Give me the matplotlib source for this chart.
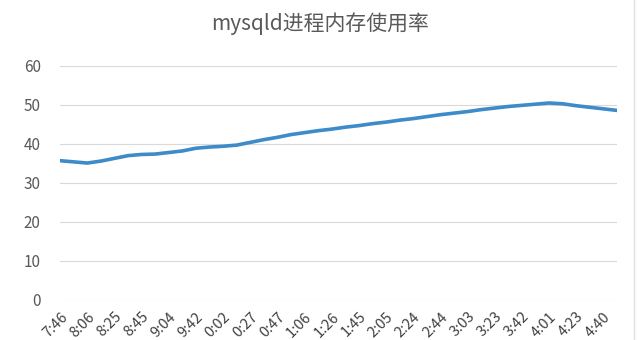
import matplotlib
matplotlib.use("Agg")
import matplotlib.pyplot as plt

plt.rcParams['font.family'] = ['Noto Sans CJK SC', 'DejaVu Sans']

# every other sample carries a visible label
tick_labels = ["7:46", "8:06", "8:25", "8:45", "9:04", "9:42", "0:02", "0:27",
               "0:47", "1:06", "1:26", "1:45", "2:05", "2:24", "2:44", "3:03",
               "3:23", "3:42", "4:01", "4:23", "4:40"]
usage = [35.7, 35.4, 35.1, 35.6, 36.3, 37.0, 37.3, 37.4, 37.8, 38.2,
         38.9, 39.2, 39.4, 39.7, 40.4, 41.1, 41.7, 42.4, 42.9, 43.4,
         43.8, 44.3, 44.7, 45.2, 45.6, 46.1, 46.5, 47.0, 47.5, 47.9,
         48.3, 48.8, 49.2, 49.6, 49.9, 50.2, 50.5, 50.3, 49.8, 49.4,
         49.0, 48.6]
yticks = [0, 10, 20, 30, 40, 50, 60]

fig = plt.figure(figsize=(6.4, 3.4), dpi=100, facecolor='white')
ax = fig.add_axes([0.094, 0.118, 0.87, 0.688])

x = list(range(len(usage)))
ax.plot(x, usage, color='#3D8BC9', linewidth=2.6, solid_capstyle='round')

ax.set_xlim(0, len(usage) - 1)
ax.set_ylim(0, 60)
ax.set_yticks(yticks)
ax.set_xticks(x[::2])
ax.set_xticklabels(tick_labels, rotation=45, ha='right', rotation_mode='anchor',
                   fontsize=10.5, color='#404040')
ax.tick_params(axis='y', labelsize=11, labelcolor='#595959', length=0, pad=14)
ax.tick_params(axis='x', length=0, pad=7)
ax.grid(axis='y', color='#D9D9D9', linewidth=0.8)
ax.set_axisbelow(True)
for s in ax.spines.values():
    s.set_visible(False)

fig.text(0.5, 0.93, "mysqld进程内存使用率", ha='center', va='center',
         fontsize=15, color='#595959')
fig.add_artist(plt.Line2D([0.99, 0.99], [0, 1], transform=fig.transFigure,
                          color='#E0E0E0', linewidth=1))

fig.savefig("out.png", dpi=100, facecolor='white')
